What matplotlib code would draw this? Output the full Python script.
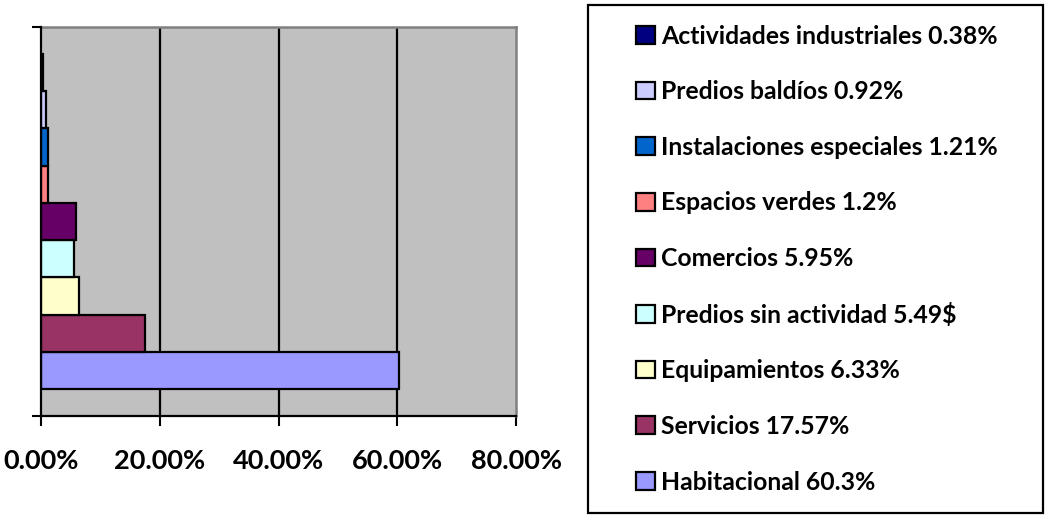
import matplotlib
matplotlib.use("Agg")
import matplotlib.pyplot as plt
from matplotlib.patches import Rectangle

# ---- data ----
series_labels = [
    "Habitacional 60.3%",
    "Servicios 17.57%",
    "Equipamientos 6.33%",
    "Predios sin actividad 5.49$",
    "Comercios 5.95%",
    "Espacios verdes 1.2%",
    "Instalaciones especiales 1.21%",
    "Predios baldíos 0.92%",
    "Actividades industriales 0.38%",
]
series_values = [60.3, 17.57, 6.33, 5.49, 5.95, 1.2, 1.21, 0.92, 0.38]
series_colors = ["#9999FF", "#993366", "#FFFFCC", "#CCFFFF", "#660066",
                 "#FF8080", "#0066CC", "#CCCCFF", "#000080"]
x_ticks = [0, 20, 40, 60, 80]
x_tick_labels = ["0.00%", "20.00%", "40.00%", "60.00%", "80.00%"]

FONT = "Lato"
W, H = 1046, 517
fig = plt.figure(figsize=(W / 100, H / 100), dpi=100)
fig.patch.set_facecolor("white")

ax = fig.add_axes([41 / W, (H - 416) / H, (516 - 41) / W, (416 - 27) / H])
ax.set_facecolor("#C0C0C0")

n = len(series_values)
gap = 0.069
bh = (1 - 2 * gap) / n
for i, (v, c, lab) in enumerate(zip(series_values, series_colors, series_labels)):
    ax.barh(gap + bh * (i + 0.5), v, height=bh, color=c, edgecolor="black",
            linewidth=1.6, label=lab, zorder=3)

ax.set_xlim(0, 80)
ax.set_ylim(0, 1)
ax.set_xticks(x_ticks)
ax.set_xticklabels(x_tick_labels, fontfamily=FONT, fontweight="bold", fontsize=19.5)
ax.set_yticks([0, 1])
ax.set_yticklabels([])
ax.tick_params(axis="x", direction="out", length=7.5, width=1.5, color="black", pad=16)
ax.tick_params(axis="y", direction="out", length=6.5, width=1.5, color="black")

for g in x_ticks[1:-1]:
    ax.axvline(g, color="black", linewidth=1.6, zorder=1)

for s in ["left", "bottom"]:
    ax.spines[s].set_color("black")
    ax.spines[s].set_linewidth(1.6)
    ax.spines[s].set_zorder(4)
for s in ["top", "right"]:
    ax.spines[s].set_color("#808080")
    ax.spines[s].set_linewidth(1.8)

# legend box
fig.add_artist(Rectangle((588 / W, (H - 513) / H), (1043 - 588) / W, (513 - 5) / H,
                         transform=fig.transFigure, fill=False, edgecolor="black",
                         linewidth=1.6))

handles, labels = ax.get_legend_handles_labels()
leg = fig.legend(handles[::-1], labels[::-1], loc="upper left",
                 bbox_to_anchor=(636 / W, (H - 24.5) / H),
                 frameon=False, borderpad=0, borderaxespad=0,
                 prop={"family": FONT, "weight": "bold", "size": 17.8},
                 handlelength=0.76, handleheight=0.72, handletextpad=0.26,
                 labelspacing=1.32)

fig.savefig("out.png", dpi=100)
